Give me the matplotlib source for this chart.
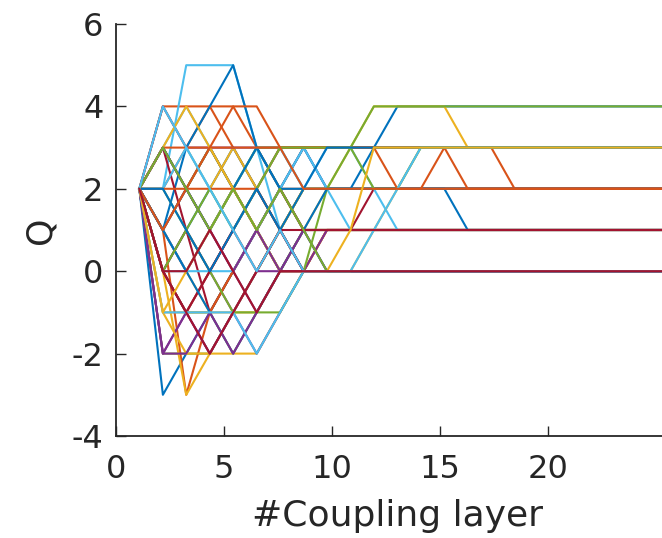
import numpy as np
import matplotlib
matplotlib.use("Agg")
import matplotlib.pyplot as plt

# MATLAB default colour order
colors = ["#0072BD", "#D95319", "#EDB120", "#7E2F8E", "#77AC30", "#4DBEEE", "#A2142F"]

# position of each coupling layer on the x axis
layer_x = [1.08, 2.17, 3.25, 4.34, 5.42, 6.51, 7.59, 8.68, 9.76, 10.85, 11.93, 13.02,
           14.10, 15.19, 16.27, 17.36, 18.44, 19.53, 20.61, 21.70, 22.78, 23.87, 24.95, 26.04]

# Q after each layer, one list per run
q_runs = [
    [2, 1, 2, 3, 2, 1, 2, 1, 0, 0, 0, 0, 0, 0, 0, 0, 0, 0, 0, 0, 0, 0, 0, 0],
    [2, 2, 3, 4, 3, 2, 1, 0, 1, 1, 1, 1, 1, 1, 1, 1, 1, 1, 1, 1, 1, 1, 1, 1],
    [2, 1, 0, -1, -2, -1, 0, 1, 2, 2, 2, 2, 2, 2, 2, 2, 2, 2, 2, 2, 2, 2, 2, 2],
    [2, -2, -1, 0, -1, 0, 1, 2, 2, 2, 2, 2, 2, 2, 2, 2, 2, 2, 2, 2, 2, 2, 2, 2],
    [2, 1, 2, 1, 2, 3, 2, 1, 1, 1, 1, 1, 1, 1, 1, 1, 1, 1, 1, 1, 1, 1, 1, 1],
    [2, 3, 4, 3, 2, 1, 2, 1, 1, 1, 1, 1, 1, 1, 1, 1, 1, 1, 1, 1, 1, 1, 1, 1],
    [2, 1, 0, 1, 2, 1, 0, 0, 0, 0, 0, 0, 0, 0, 0, 0, 0, 0, 0, 0, 0, 0, 0, 0],
    [2, 0, 1, 2, 3, 2, 1, 0, 0, 0, 0, 0, 0, 0, 0, 0, 0, 0, 0, 0, 0, 0, 0, 0],
    [2, 0, -1, 0, 1, 2, 3, 3, 3, 3, 3, 3, 3, 3, 3, 3, 3, 3, 3, 3, 3, 3, 3, 3],
    [2, 4, 3, 2, 3, 2, 1, 2, 2, 2, 2, 2, 2, 2, 2, 2, 2, 2, 2, 2, 2, 2, 2, 2],
    [2, 1, 2, 1, 0, -1, 0, 1, 0, 0, 0, 0, 0, 0, 0, 0, 0, 0, 0, 0, 0, 0, 0, 0],
    [2, 0, -1, -1, 0, 1, 0, 1, 1, 1, 1, 1, 1, 1, 1, 1, 1, 1, 1, 1, 1, 1, 1, 1],
    [2, 1, 0, 1, 2, 3, 3, 2, 2, 2, 2, 2, 2, 2, 2, 2, 2, 2, 2, 2, 2, 2, 2, 2],
    [2, 3, 2, 3, 2, 1, 2, 3, 3, 3, 3, 3, 3, 3, 3, 3, 3, 3, 3, 3, 3, 3, 3, 3],
    [2, -3, -2, -1, 0, 1, 0, 0, 0, 0, 0, 0, 0, 0, 0, 0, 0, 0, 0, 0, 0, 0, 0, 0],
    [2, 4, 4, 4, 4, 3, 2, 2, 2, 2, 2, 2, 2, 2, 2, 2, 2, 2, 2, 2, 2, 2, 2, 2],
    [2, -1, -1, -1, -1, -1, 0, 1, 1, 1, 1, 1, 1, 1, 1, 1, 1, 1, 1, 1, 1, 1, 1, 1],
    [2, 4, 3, 3, 3, 3, 3, 3, 2, 2, 2, 2, 2, 2, 2, 2, 2, 2, 2, 2, 2, 2, 2, 2],
    [2, -2, -2, -2, -1, 0, 1, 2, 2, 2, 2, 2, 2, 2, 2, 2, 2, 2, 2, 2, 2, 2, 2, 2],
    [2, 2, 5, 5, 5, 3, 1, 0, 0, 0, 0, 0, 0, 0, 0, 0, 0, 0, 0, 0, 0, 0, 0, 0],
    [2, 0, 1, -1, 0, 1, 2, 1, 1, 1, 1, 1, 1, 1, 1, 1, 1, 1, 1, 1, 1, 1, 1, 1],
    [2, 1, 3, 4, 5, 3, 2, 3, 2, 2, 3, 4, 4, 4, 4, 4, 4, 4, 4, 4, 4, 4, 4, 4],
    [2, 1, -3, -1, 0, 1, 2, 1, 1, 1, 1, 1, 1, 1, 1, 1, 1, 1, 1, 1, 1, 1, 1, 1],
    [2, 0, -3, -2, -1, 0, 1, 2, 2, 3, 4, 4, 4, 4, 3, 3, 3, 3, 3, 3, 3, 3, 3, 3],
    [2, -2, -1, -2, -1, 0, 0, 0, 0, 0, 0, 0, 0, 0, 0, 0, 0, 0, 0, 0, 0, 0, 0, 0],
    [2, 3, 2, 3, 2, 3, 3, 3, 3, 3, 3, 3, 3, 3, 3, 3, 3, 3, 3, 3, 3, 3, 3, 3],
    [2, 0, 0, 0, 0, 1, 2, 3, 2, 1, 1, 1, 1, 1, 1, 1, 1, 1, 1, 1, 1, 1, 1, 1],
    [2, 3, 1, 0, 1, 2, 1, 0, 1, 1, 2, 2, 2, 2, 2, 2, 2, 2, 2, 2, 2, 2, 2, 2],
    [2, 3, 2, 1, 2, 3, 2, 2, 2, 2, 2, 2, 2, 2, 1, 1, 1, 1, 1, 1, 1, 1, 1, 1],
    [2, 3, 3, 3, 3, 3, 3, 3, 3, 3, 3, 3, 3, 3, 3, 3, 2, 2, 2, 2, 2, 2, 2, 2],
    [2, -1, -2, -2, -2, -2, -1, 0, 1, 1, 1, 1, 1, 1, 1, 1, 1, 1, 1, 1, 1, 1, 1, 1],
    [2, 0, -1, -2, -1, -2, -1, 0, 1, 1, 1, 1, 1, 1, 1, 1, 1, 1, 1, 1, 1, 1, 1, 1],
    [2, 2, 1, 0, -1, -1, -1, 0, 2, 3, 4, 4, 4, 4, 4, 4, 4, 4, 4, 4, 4, 4, 4, 4],
    [2, 2, 3, 2, 1, 2, 3, 2, 3, 3, 2, 1, 1, 1, 1, 1, 1, 1, 1, 1, 1, 1, 1, 1],
    [2, 0, -1, 0, 1, 0, 1, 0, 0, 0, 0, 0, 0, 0, 0, 0, 0, 0, 0, 0, 0, 0, 0, 0],
    [2, 1, 0, -1, -2, -1, 0, 1, 2, 2, 2, 2, 2, 2, 2, 2, 2, 2, 2, 2, 2, 2, 2, 2],
    [2, 2, 2, 2, 2, 2, 3, 3, 3, 3, 3, 2, 2, 3, 2, 2, 2, 2, 2, 2, 2, 2, 2, 2],
    [2, 3, 4, 3, 2, 1, 0, 0, 0, 0, 1, 2, 3, 3, 3, 3, 3, 3, 3, 3, 3, 3, 3, 3],
    [2, -2, -2, -1, -2, -1, 0, 1, 1, 1, 1, 1, 1, 1, 1, 1, 1, 1, 1, 1, 1, 1, 1, 1],
    [2, 0, 1, 2, 1, 2, 3, 3, 3, 3, 2, 2, 3, 3, 3, 3, 3, 3, 3, 3, 3, 3, 3, 3],
    [2, -1, -1, -1, -1, -2, -1, 0, 0, 0, 1, 2, 3, 3, 3, 3, 3, 3, 3, 3, 3, 3, 3, 3],
    [2, 0, -1, -2, -1, 0, 1, 1, 1, 1, 1, 1, 1, 1, 1, 1, 1, 1, 1, 1, 1, 1, 1, 1],
    [2, 2, 1, 0, 1, 2, 1, 2, 3, 3, 3, 3, 3, 3, 3, 3, 3, 3, 3, 3, 3, 3, 3, 3],
    [2, 1, 2, 3, 4, 4, 3, 2, 2, 2, 2, 2, 2, 2, 2, 2, 2, 2, 2, 2, 2, 2, 2, 2],
    [2, -1, 0, 1, 2, 1, 0, 0, 0, 1, 3, 3, 3, 3, 3, 3, 3, 3, 3, 3, 3, 3, 3, 3],
    [2, 3, 2, 1, 0, 1, 0, 0, 0, 0, 0, 0, 0, 0, 0, 0, 0, 0, 0, 0, 0, 0, 0, 0],
    [2, 3, 2, 1, 2, 1, 2, 1, 0, 0, 0, 0, 0, 0, 0, 0, 0, 0, 0, 0, 0, 0, 0, 0],
    [2, 4, 3, 2, 1, 0, 1, 0, 0, 0, 0, 0, 0, 0, 0, 0, 0, 0, 0, 0, 0, 0, 0, 0],
    [2, 0, 0, 1, 0, -1, 0, 0, 0, 0, 0, 0, 0, 0, 0, 0, 0, 0, 0, 0, 0, 0, 0, 0],
]

x_ticks = [0, 5, 10, 15, 20]
y_ticks = [-4, -2, 0, 2, 4, 6]

plt.rcParams['font.family'] = ['DejaVu Sans']
plt.rcParams['axes.unicode_minus'] = False
fig = plt.figure(figsize=(6.62, 5.38), dpi=100)
# the right end of the axes runs past the figure edge, as in the cropped original
ax = fig.add_axes([0.1752, 0.1896, 0.85, 0.7658])

for i, q in enumerate(q_runs):
    ax.plot(layer_x, q, color=colors[i % len(colors)], lw=1.5)

ax.set_xlim(0, 26.03)
ax.set_ylim(-4, 6)
ax.set_xticks(x_ticks)
ax.set_yticks(y_ticks)

for side in ['top', 'right']:
    ax.spines[side].set_visible(False)
for side in ['left', 'bottom']:
    ax.spines[side].set_color('#262626')
    ax.spines[side].set_linewidth(1.3)
ax.tick_params(direction='in', length=7, width=1.0, colors='#262626',
               labelsize=23, pad=9)
ax.tick_params(axis='x', pad=13)

ax.set_xlabel('#Coupling layer', fontsize=26, color='#262626', labelpad=10)
ax.set_ylabel('Q', fontsize=25, color='#262626', labelpad=10)

fig.savefig('out.png', dpi=100)
